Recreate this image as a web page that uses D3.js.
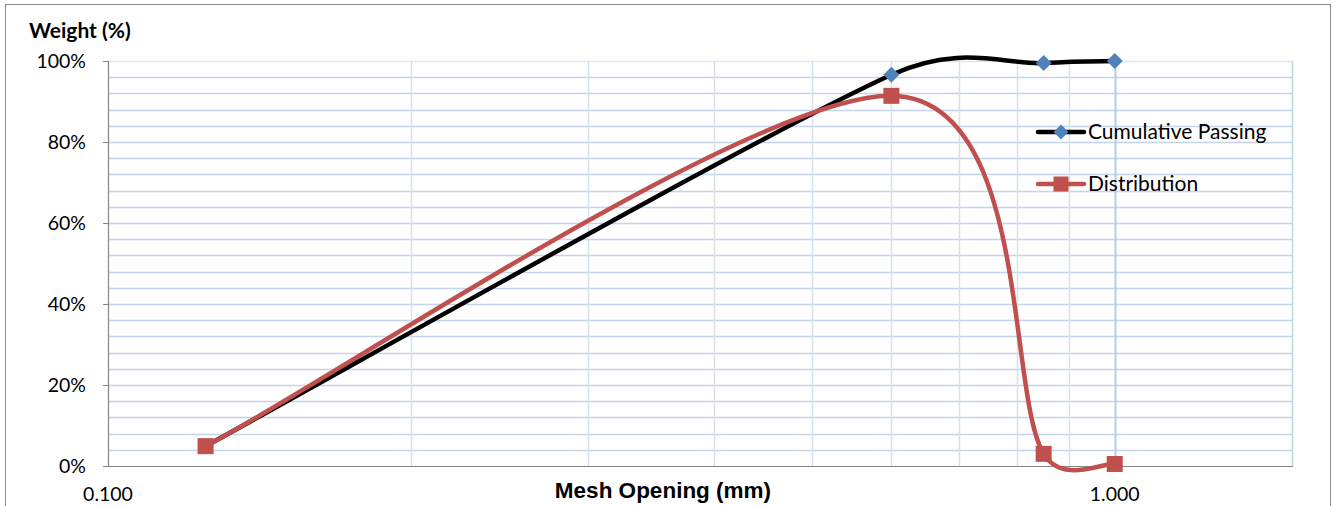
<!DOCTYPE html>
<html>
<head>
<meta charset="utf-8">
<script src="https://cdn.jsdelivr.net/npm/d3@7"></script>
<style>
  body { margin: 0; background: #fff; }
  svg { font-family: Lato, "Open Sans", sans-serif; }
  .tick-label { font-size: 19.5px; fill: #000; }
  .weight-title { font-size: 21px; font-weight: bold; fill: #000; }
  .mesh-title { font-family: "Liberation Sans", Arial, sans-serif; font-size: 22.5px; font-weight: bold; fill: #000; }
  .legend-label { font-size: 21px; fill: #000; }
</style>
</head>
<body>
<div class="js-chart"></div>
<script>
// Sieve data (mesh opening in mm, weight in %)
var meshOpening = [0.125, 0.6, 0.85, 1.0];
var cumulativePassing = [4.9, 96.6, 99.5, 100];
var distribution = [4.9, 91.4, 3.0, 0.5];

var seriesNames = ['Cumulative Passing', 'Distribution'];
var yTicks = [0, 20, 40, 60, 80, 100];
var yMinorTicks = d3.range(0, 101, 4);
var xGridValues = [0.2, 0.3, 0.4, 0.5, 0.6, 0.7, 0.8, 0.9, 1.0];
var xTickLabels = [0.1, 1.0];

var width = 1336;
var height = 506;
var plotLeft = 108;
var plotRight = 1292;
var plotTop = 61;
var plotBottom = 466;

var svg = d3.select('.js-chart').append('svg')
  .attr('width', width)
  .attr('height', height);

// outer chart border
svg.append('rect')
  .attr('x', 5.5)
  .attr('y', 4.5)
  .attr('width', 1325)
  .attr('height', 520)
  .attr('fill', 'none')
  .attr('stroke', '#8c8c8c')
  .attr('stroke-width', 1);

var xScale = d3.scaleLog()
  .domain([0.1, 1.5])
  .range([plotLeft, plotRight]);

var yScale = d3.scaleLinear()
  .domain([0, 100])
  .range([plotBottom, plotTop]);

/**
 * Gridlines
 */
svg.append('g').selectAll('line')
  .data(yMinorTicks.filter(function(d) { return d > 0; }))
  .enter().append('line')
  .attr('x1', plotLeft)
  .attr('x2', plotRight)
  .attr('y1', function(d) { return Math.round(yScale(d)) + 0.5; })
  .attr('y2', function(d) { return Math.round(yScale(d)) + 0.5; })
  .attr('stroke', function(d) { return d === 100 ? '#dde6f2' : '#c4d4ea'; })
  .attr('stroke-width', 1.5);

svg.append('g').selectAll('line')
  .data(xGridValues)
  .enter().append('line')
  .attr('x1', function(d) { return Math.round(xScale(d)) + 0.5; })
  .attr('x2', function(d) { return Math.round(xScale(d)) + 0.5; })
  .attr('y1', plotTop)
  .attr('y2', plotBottom)
  .attr('stroke', function(d) { return d === 1.0 ? '#b9cbe3' : '#d6e1ef'; })
  .attr('stroke-width', function(d) { return d === 1.0 ? 2 : 1.5; });

// right edge of plot area
svg.append('line')
  .attr('x1', plotRight + 0.5)
  .attr('x2', plotRight + 0.5)
  .attr('y1', plotTop)
  .attr('y2', plotBottom)
  .attr('stroke', '#c4d4ea')
  .attr('stroke-width', 1.5);

/**
 * Axes
 */
svg.append('line')
  .attr('x1', plotLeft + 0.5)
  .attr('x2', plotLeft + 0.5)
  .attr('y1', plotTop)
  .attr('y2', plotBottom)
  .attr('stroke', '#868686')
  .attr('stroke-width', 1.2);

svg.append('line')
  .attr('x1', plotLeft)
  .attr('x2', plotRight + 1)
  .attr('y1', plotBottom + 0.5)
  .attr('y2', plotBottom + 0.5)
  .attr('stroke', '#868686')
  .attr('stroke-width', 1.2);

svg.append('g').selectAll('line')
  .data(yTicks)
  .enter().append('line')
  .attr('x1', plotLeft - 5)
  .attr('x2', plotLeft)
  .attr('y1', function(d) { return Math.round(yScale(d)) + 0.5; })
  .attr('y2', function(d) { return Math.round(yScale(d)) + 0.5; })
  .attr('stroke', '#868686');

svg.append('g').selectAll('text')
  .data(yTicks)
  .enter().append('text')
  .classed('tick-label', true)
  .attr('x', 86)
  .attr('y', function(d) { return yScale(d) + 7; })
  .attr('text-anchor', 'end')
  .text(function(d) { return d + '%'; });

svg.append('g').selectAll('text')
  .data(xTickLabels)
  .enter().append('text')
  .classed('tick-label', true)
  .attr('x', function(d) { return xScale(d); })
  .attr('y', 501)
  .attr('text-anchor', 'middle')
  .text(function(d) { return d3.format('.3f')(d); });

svg.append('text')
  .classed('weight-title', true)
  .attr('x', 29)
  .attr('y', 38)
  .text('Weight (%)');

svg.append('text')
  .classed('mesh-title', true)
  .attr('x', 663)
  .attr('y', 498)
  .attr('text-anchor', 'middle')
  .text('Mesh Opening (mm)');

/**
 * Series - Excel style smoothing: Catmull-Rom arms, capped at half the segment
 */
var smoothPath = function smoothPath(pts) {
  var p = d3.path();
  p.moveTo(pts[0][0], pts[0][1]);
  for (var i = 0; i < pts.length - 1; i++) {
    var a = pts[i];
    var b = pts[i + 1];
    var prev = pts[i - 1] || a;
    var next = pts[i + 2] || b;
    var seg = Math.hypot(b[0] - a[0], b[1] - a[1]);
    var t1 = [(b[0] - prev[0]) / 6, (b[1] - prev[1]) / 6];
    var t2 = [(next[0] - a[0]) / 6, (next[1] - a[1]) / 6];
    [t1, t2].forEach(function(t) {
      var len = Math.hypot(t[0], t[1]);
      if (len > seg / 2) {
        t[0] *= seg / 2 / len;
        t[1] *= seg / 2 / len;
      }
    });
    p.bezierCurveTo(a[0] + t1[0], a[1] + t1[1], b[0] - t2[0], b[1] - t2[1], b[0], b[1]);
  }
  return p.toString();
};

var cumData = meshOpening.map(function(m, i) { return [m, cumulativePassing[i]]; });
var distData = meshOpening.map(function(m, i) { return [m, distribution[i]]; });

var toPixels = function(data) {
  return data.map(function(d) { return [xScale(d[0]), yScale(d[1])]; });
};

svg.append('path')
  .attr('d', smoothPath(toPixels(cumData)))
  .attr('fill', 'none')
  .attr('stroke', '#000')
  .attr('stroke-width', 4.5)
  .attr('stroke-linecap', 'round');

svg.append('path')
  .attr('d', smoothPath(toPixels(distData)))
  .attr('fill', 'none')
  .attr('stroke', '#c0504d')
  .attr('stroke-width', 4.5)
  .attr('stroke-linecap', 'round');

var diamond = function(cx, cy, r) {
  return 'M' + cx + ',' + (cy - r) + 'L' + (cx + r) + ',' + cy +
    'L' + cx + ',' + (cy + r) + 'L' + (cx - r) + ',' + cy + 'Z';
};

svg.append('g').selectAll('path')
  .data(cumData)
  .enter().append('path')
  .attr('d', function(d) { return diamond(xScale(d[0]), yScale(d[1]), 8); })
  .attr('fill', '#4f81bd');

svg.append('g').selectAll('rect')
  .data(distData)
  .enter().append('rect')
  .attr('x', function(d) { return xScale(d[0]) - 8; })
  .attr('y', function(d) { return yScale(d[1]) - 8; })
  .attr('width', 16)
  .attr('height', 16)
  .attr('fill', '#c0504d');

/**
 * Legend
 */
var legendColors = ['#000', '#c0504d'];
var legend = svg.append('g').selectAll('g')
  .data(seriesNames)
  .enter().append('g')
  .attr('transform', function(d, i) {
    return 'translate(1038,' + (132 + i * 52) + ')';
  });

legend.append('line')
  .attr('x1', 0)
  .attr('x2', 46)
  .attr('y1', 0)
  .attr('y2', 0)
  .attr('stroke', function(d, i) { return legendColors[i]; })
  .attr('stroke-width', 4.5)
  .attr('stroke-linecap', 'round');

legend.filter(function(d, i) { return i === 0; })
  .append('path')
  .attr('d', diamond(23, 0, 7.5))
  .attr('fill', '#4f81bd');

legend.filter(function(d, i) { return i === 1; })
  .append('rect')
  .attr('x', 15.5)
  .attr('y', -7.5)
  .attr('width', 15)
  .attr('height', 15)
  .attr('fill', '#c0504d');

legend.append('text')
  .classed('legend-label', true)
  .attr('x', 50)
  .attr('y', 7)
  .text(function(d) { return d; });
</script>
</body>
</html>
